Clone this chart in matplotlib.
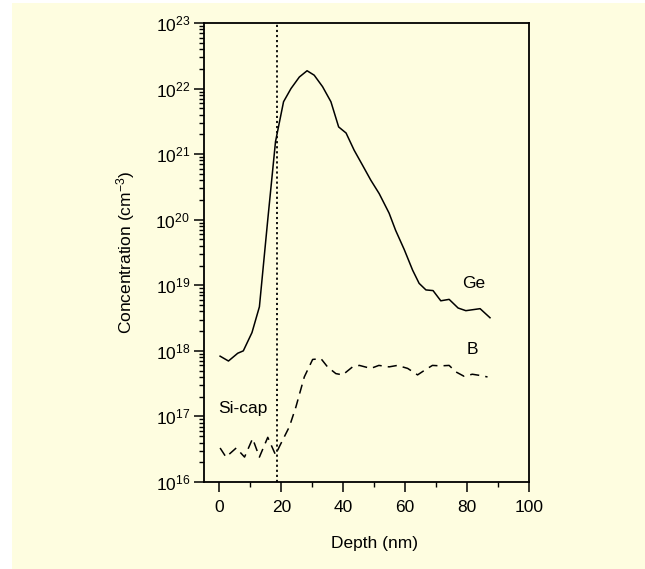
import matplotlib
matplotlib.use("Agg")
import matplotlib.pyplot as plt
from matplotlib.ticker import FixedLocator, LogLocator, NullFormatter, MultipleLocator

plt.rcParams['font.family'] = ['Liberation Sans', 'DejaVu Sans']
plt.rcParams['mathtext.fontset'] = 'custom'
plt.rcParams['mathtext.rm'] = 'Liberation Sans'
plt.rcParams['mathtext.it'] = 'Liberation Sans'

# Ge profile
ge_depth = [0.2, 2.9, 5.9, 7.7, 10.5, 12.9, 15.6, 18.1, 20.7, 23.1, 25.8, 28.3, 30.6,
            33.3, 36.0, 38.5, 40.9, 43.5, 46.2, 48.9, 51.6, 54.8, 56.9, 59.7, 62.4,
            64.5, 66.7, 69.0, 71.5, 74.2, 77.1, 79.6, 84.2, 87.4]
ge_conc = [8.3e17, 7.0e17, 9.2e17, 1.0e18, 1.9e18, 4.7e18, 1.0e20, 1.55e21, 6.3e21,
           1.0e22, 1.5e22, 1.87e22, 1.6e22, 1.07e22, 6.3e21, 2.6e21, 2.1e21, 1.15e21,
           6.8e20, 4.0e20, 2.5e20, 1.26e20, 6.9e19, 3.5e19, 1.7e19, 1.07e19, 8.5e18,
           8.3e18, 5.8e18, 6.1e18, 4.5e18, 4.1e18, 4.4e18, 3.2e18]

# B profile
b_depth = [0.2, 2.1, 5.4, 8.1, 10.7, 12.9, 15.6, 18.1, 19.4, 22.6, 24.7, 27.4, 30.1,
           32.8, 34.9, 37.6, 39.8, 43.0, 45.2, 48.9, 51.5, 54.8, 57.5, 60.8, 64.0,
           66.1, 68.8, 71.5, 74.2, 76.3, 79.0, 81.7, 84.4, 86.6]
b_conc = [3.3e16, 2.4e16, 3.3e16, 2.4e16, 4.6e16, 2.4e16, 4.8e16, 2.6e16, 3.5e16,
          7.0e16, 1.4e17, 4.0e17, 7.4e17, 7.6e17, 5.7e17, 4.5e17, 4.3e17, 5.7e17,
          6.0e17, 5.4e17, 6.0e17, 5.7e17, 6.0e17, 5.4e17, 4.3e17, 5.0e17, 6.0e17,
          5.9e17, 6.0e17, 4.8e17, 4.1e17, 4.4e17, 4.2e17, 4.0e17]

si_cap_depth = 18.7
x_ticks = [0, 20, 40, 60, 80, 100]
y_exponents = [16, 17, 18, 19, 20, 21, 22, 23]

bg = '#fefde0'
fig = plt.figure(figsize=(6.45, 5.69), dpi=100)
fig.patch.set_facecolor('white')
# background panel
fig.patches.append(plt.Rectangle((12/645, 0), 1 - 12/645, 1 - 3/569, transform=fig.transFigure,
                                 facecolor=bg, edgecolor='none', zorder=-10))

ax = fig.add_axes([204/645, 1 - 482/569, 325/645, 459/569])
ax.set_facecolor(bg)

ax.plot(ge_depth, ge_conc, color='black', lw=1.1)
ax.plot(b_depth, b_conc, color='black', lw=1.1, dashes=(6, 4))
ax.axvline(si_cap_depth, color='black', lw=1.3, dashes=(1.2, 1.6))

ax.set_yscale('log')
ax.set_xlim(-5, 100)
ax.set_ylim(1e16, 1e23)

ax.xaxis.set_major_locator(FixedLocator(x_ticks))
ax.xaxis.set_minor_locator(MultipleLocator(10))
ax.set_xticklabels([str(v) for v in x_ticks])
ax.yaxis.set_major_locator(FixedLocator([10.0**e for e in y_exponents]))
ax.set_yticklabels([r'$\mathregular{10^{%d}}$' % e for e in y_exponents])
ax.yaxis.set_minor_locator(LogLocator(base=10, subs=range(2, 10), numticks=20))
ax.yaxis.set_minor_formatter(NullFormatter())

ax.tick_params(which='major', direction='out', length=7, width=1.1, labelsize=12.5,
               top=False, right=False, color='black')
ax.tick_params(which='minor', direction='out', length=3.5, width=1.0, top=False, right=False)
ax.tick_params(axis='x', which='major', pad=6)
ax.tick_params(axis='y', which='major', pad=3)
for s in ax.spines.values():
    s.set_linewidth(1.3)

ax.set_xlabel('Depth (nm)', fontsize=12.5, labelpad=15)
ax.xaxis.label.set_x(55 / 105)
ax.set_ylabel(r'Concentration (cm$^{-3}$)', fontsize=12.5, labelpad=13)

fig.text(474/645, 1 - 283/569, 'Ge', fontsize=12.5, ha='center', va='center')
fig.text(472/645, 1 - 350/569, 'B', fontsize=12.5, ha='center', va='center')
fig.text(218/645, 1 - 408/569, 'Si-cap', fontsize=12.5, ha='left', va='center')

fig.savefig('out.png', dpi=100, facecolor=fig.get_facecolor())
